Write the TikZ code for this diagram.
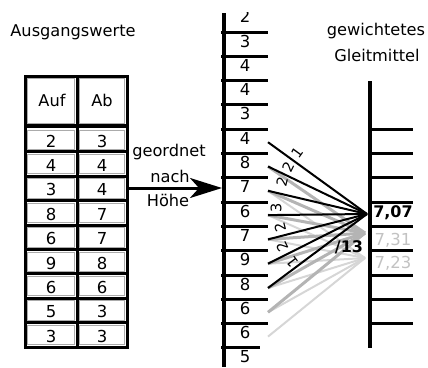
\documentclass[tikz,border=0pt]{standalone}
\usepackage{fontspec}
\setmainfont{DejaVu Sans}
\usetikzlibrary{arrows.meta}
\definecolor{midgray}{HTML}{B4B4B4}
\definecolor{lightgray2}{HTML}{D6D6D6}
\definecolor{labgray}{HTML}{C2C2C2}
\definecolor{bevel}{HTML}{ABABAB}
\begin{document}
\begin{tikzpicture}[x=1pt,y=-1pt,
  txt/.style={font=\fontsize{16.2}{19}\selectfont, inner sep=0pt},
  num/.style={font=\fontsize{16.5}{19}\selectfont, inner sep=0pt},
  wnum/.style={font=\fontsize{14.5}{16}\selectfont, inner sep=0pt},
  tab/.style={line width=3pt, black},
  bev/.style={line width=0.9pt, bevel},
  vline/.style={line width=3.5pt, black},
  tickline/.style={line width=3pt, black},
  blk/.style={line width=2pt, black},
  mid/.style={line width=3pt, midgray},
  lig/.style={line width=2pt, lightgray2},
  arr/.style={line width=3pt, -{Stealth[length=32pt,width=20pt,inset=9pt]}}
]
\useasboundingbox (0,0) rectangle (428,367);

% titles
\node[txt] (title) at (73,32) {Ausgangswerte};
\node[txt] (gew) at (376,31) {gewichtetes};
\node[txt] (gleit) at (377,55) {Gleitmittel};

% table bevel
\foreach \xa/\xb in {25/77,77/127} {
  \draw[bev] (\xa+2.5,78.5) rectangle (\xb-2.5,123);
  \foreach \k in {0,...,8} {
    \draw[bev] (\xa+2.5,127.5+24.4*\k+2.5) rectangle (\xb-2.5,127.5+24.4*\k+24.4-2.5);
  }
}
% table frame
\draw[tab] (25,76) rectangle (127,347);
\draw[tab] (77,76) -- (77,347);
\draw[line width=4pt] (25,125.5) -- (127,125.5);
\foreach \k in {1,...,8} \draw[tab] (25,127.5+24.4*\k) -- (127,127.5+24.4*\k);

\node[txt] (auf) at (52,100) {Auf};
\node[txt] (ab) at (102,100) {Ab};
\foreach \a/\b [count=\i from 0] in {2/3,4/4,3/4,8/7,6/7,9/8,6/6,5/3,3/3} {
  \node[num] (auf\i) at (51,141+24.4*\i) {\a};
  \node[num] (ab\i) at (102,141+24.4*\i) {\b};
}

% arrow
\coordinate (tabR) at (127,188);
\coordinate (ladL) at (222,188);
\draw[arr] (tabR) -- (ladL);
\node[txt] (geo) at (169,152) {geordnet};
\node[txt] (nach) at (170,176) {nach};
\node[txt] (hoehe) at (168,200) {Höhe};

% middle ladder
\draw[vline] (224,13) -- (224,367);
\foreach \k in {0,...,12} \draw[tickline] (221,32+24.3*\k) -- (268,32+24.3*\k);
\draw[tickline] (221,32+24.3*13) -- (260,32+24.3*13);
\begin{scope}
  \clip (200,12) rectangle (280,40);
  \node[num] (v0) at (245,16.7) {2};
\end{scope}
\foreach \v [count=\i from 1] in {3,4,4,3,4,8,7,6,7,9,8,6,6,5} {
  \node[num] (v\i) at (245,16.7+24.3*\i) {\v};
}

% right ladder
\draw[vline] (370,81) -- (370,348);
\foreach \k in {4,...,12} \draw[tickline] (368,32+24.3*\k) -- (413,32+24.3*\k);

% fan
\coordinate (c1) at (367,214);
\coordinate (c2) at (365,233);
\coordinate (c3) at (365,258);
\foreach \i in {5,...,13} \coordinate (s\i) at (268,20.7+24.3*\i);
\foreach \i in {7,...,13} \draw[lig] (s\i) -- (c3);
\foreach \i in {6,...,12} \draw[mid] (s\i) -- (c2);
\foreach \i in {5,...,11} \draw[blk] (s\i) -- (c1);

% weights
\node[wnum, rotate=54] (w1) at (297,153) {1};
\node[wnum, rotate=64] (w2) at (288,167) {2};
\node[wnum, rotate=76] (w3) at (282,182) {2};
\node[wnum, rotate=90] (w4) at (276,208) {3};
\node[wnum, rotate=104] (w5) at (280,227) {2};
\node[wnum, rotate=116] (w6) at (282,247) {2};
\node[wnum, rotate=127] (w7) at (292,262) {1};

% results
\node[txt, font=\fontsize{16}{19}\selectfont\bfseries] (r1) at (393,213) {7,07};
\node[txt, font=\fontsize{16.5}{19}\selectfont, text=labgray] (r2) at (393,240) {7,31};
\node[txt, font=\fontsize{16.5}{19}\selectfont, text=labgray] (r3) at (393,263) {7,23};
\node[txt, font=\fontsize{16}{19}\selectfont\bfseries] (div) at (349,247) {/13};
\end{tikzpicture}
\end{document}
